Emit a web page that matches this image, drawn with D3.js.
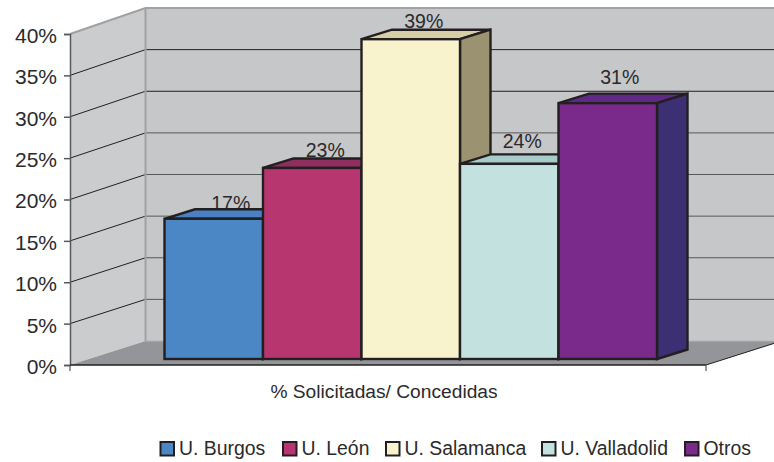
<!DOCTYPE html>
<html><head><meta charset="utf-8">
<script src="https://cdn.jsdelivr.net/npm/d3@7"></script>
<style>html,body{margin:0;padding:0;background:#fff}svg{display:block}text{font-family:"Liberation Sans",Arial,sans-serif;fill:#2b2a2b}</style>
</head><body><svg id="c" width="774" height="462"></svg>
<script>
const categories = ["U. Burgos","U. León","U. Salamanca","U. Valladolid","Otros"];
const values = [17,23,39,24,31];
const heights = [17.1,23.3,39,23.8,31.2];
const yTicks = [0,5,10,15,20,25,30,35,40];
const axisTitle = "% Solicitadas/ Concedidas";
const frontColors = ["#4b87c5","#b83670","#f8f2cd","#c2e1df","#7a2a8a"];
const topColors = ["#4a80c4","#8f2f5f","#d6cea6","#a7cbca","#5e2a86"];
const sideColors = ["#35608f","#6e2850","#9a9270","#8aa5a3","#3d2f74"];

const svg = d3.select("#c");
const yFront = d3.scaleLinear([0,40],[365,34]);
const yBack = d3.scaleLinear([0,40],[341,8]);
const yBar = d3.scaleLinear([0,40],[359,31]);
const xBar = d3.scaleBand(categories,[164.5,657]);
const L=70,R=706,DX=75.5,BDX=30.5,BDY=9.5;
const pts=a=>a.map(p=>p.join(",")).join(" ");

// walls and floor
svg.append("polygon").attr("points",pts([[L+DX,yBack(40)],[800,yBack(40)],[800,yBack(0)],[L+DX,yBack(0)]])).attr("fill","#c6c7c9");
svg.append("polygon").attr("points",pts([[L,yFront(40)],[L+DX,yBack(40)],[L+DX,yBack(0)],[L,yFront(0)]])).attr("fill","#cbccce");
svg.append("polygon").attr("points",pts([[L,yFront(0)],[L+DX,yBack(0)],[R+DX,yBack(0)],[R,yFront(0)]])).attr("fill","#939598");
// gridlines
const gridTicks=yTicks.filter(t=>t>0&&t<40);
svg.selectAll(".gb").data(gridTicks).join("line").attr("x1",L+DX).attr("x2",800)
  .attr("y1",yBack).attr("y2",yBack).attr("stroke",d=>d>=30?"#231f20":"#58595b").attr("stroke-width",1);
svg.selectAll(".gs").data(gridTicks).join("line").attr("x1",L).attr("x2",L+DX)
  .attr("y1",yFront).attr("y2",yBack).attr("stroke","#231f20").attr("stroke-width",1);
// wall edges
const edge="#a0a1a4";
svg.append("path").attr("d",`M${L},${yFront(40)}L${L+DX},${yBack(40)}L800,${yBack(40)}M${L+DX},${yBack(40)}V${yBack(0)}`).attr("fill","none").attr("stroke",edge).attr("stroke-width",2);
svg.append("line").attr("x1",L+DX).attr("x2",800).attr("y1",yBack(0)).attr("y2",yBack(0)).attr("stroke","#b4b5b7").attr("stroke-width",1);
svg.append("line").attr("x1",R).attr("x2",R+DX).attr("y1",yFront(0)).attr("y2",yBack(0)).attr("stroke","#231f20").attr("stroke-width",1);

// labels beneath the bars so bar tops clip them, as in the reference
const labelLift=[8.5,10.5,11,15.5,19], labelShift=[17,13,13,13,12];
svg.selectAll(".lab").data(categories).join("text").attr("class","lab")
  .attr("x",(d,i)=>xBar(d)+xBar.bandwidth()/2+labelShift[i]).attr("y",(d,i)=>yBar(heights[i])-labelLift[i])
  .attr("text-anchor","middle").attr("font-size",19.5).text((d,i)=>values[i]+"%");

// bars
categories.forEach((c,i)=>{
  const x0=xBar(c),x1=x0+xBar.bandwidth(),t=yBar(heights[i]),b=yBar(0);
  const g=svg.append("g").attr("stroke","#231f20").attr("stroke-width",2.4).attr("stroke-linejoin","miter");
  g.append("polygon").attr("points",pts([[x0,t],[x0+BDX,t-BDY],[x1+BDX,t-BDY],[x1,t]])).attr("fill",topColors[i]);
  g.append("polygon").attr("points",pts([[x1,t],[x1+BDX,t-BDY],[x1+BDX,b-BDY],[x1,b]])).attr("fill",sideColors[i]);
  g.append("rect").attr("x",x0).attr("y",t).attr("width",x1-x0).attr("height",b-t).attr("fill",frontColors[i]);
});

// axes
const yAxis=d3.axisLeft(yFront).tickValues(yTicks).tickFormat(d=>d+"%").tickSize(6).tickPadding(7);
const ga=svg.append("g").attr("transform",`translate(${L},0)`).call(yAxis);
ga.selectAll("path,line").attr("stroke","#58595b").attr("stroke-width",1.5);
ga.selectAll("text").attr("font-size",21).attr("dy","0.4em").attr("font-family",'"Liberation Sans",Arial,sans-serif').attr("fill","#2b2a2b");
const xAxis=d3.scalePoint(["a","b"],[L,R]);
svg.append("line").attr("x1",L).attr("x2",R).attr("y1",yFront(0)).attr("y2",yFront(0)).attr("stroke","#231f20").attr("stroke-width",1.3);
svg.selectAll(".xt").data(xAxis.domain()).join("line").attr("x1",xAxis).attr("x2",xAxis).attr("y1",yFront(0)).attr("y2",yFront(0)+6).attr("stroke","#58595b").attr("stroke-width",1.2);
svg.append("text").attr("x",384).attr("y",398).attr("text-anchor","middle").attr("font-size",19.2).text(axisTitle);

// legend
const legX=d3.scaleOrdinal(categories,[160.5,283,386,542,685]);
const leg=svg.selectAll(".leg").data(categories).join("g").attr("transform",d=>`translate(${legX(d)},442)`);
leg.append("rect").attr("width",13.5).attr("height",13.5).attr("fill",(d,i)=>frontColors[i]).attr("stroke","#231f20").attr("stroke-width",2);
leg.append("text").attr("x",18.5).attr("y",12.5).attr("font-size",19.4).text(d=>d);
</script></body></html>
